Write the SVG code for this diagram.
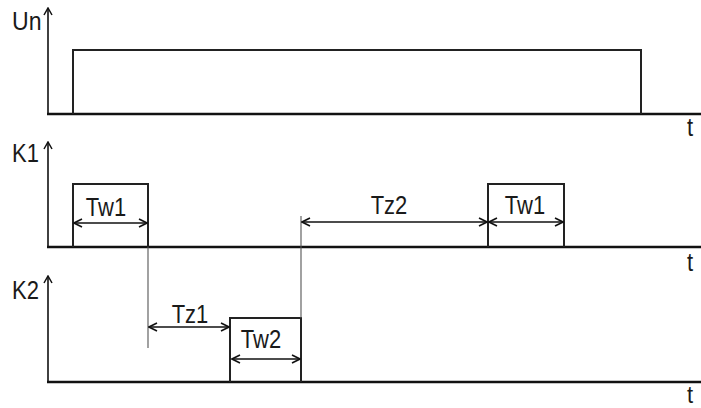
<svg xmlns="http://www.w3.org/2000/svg" width="701" height="408" viewBox="0 0 701 408">
  <style>
    .lbl { font-family: "Liberation Sans", Arial, sans-serif; font-size: 22px; fill: #1a1a1a; }
    .dim { font-family: "Liberation Sans", Arial, sans-serif; font-size: 22px; fill: #1a1a1a; text-anchor: middle; }
    .axis { stroke: #111; stroke-width: 1.6; fill: none; }
    .base { stroke: #111; stroke-width: 2.4; fill: none; }
    .pulse { stroke: #222; stroke-width: 2; fill: none; }
    .ext { stroke: #555; stroke-width: 1.1; fill: none; }
    .arr { stroke: #111; stroke-width: 1.6; fill: none; marker-start: url(#chev); marker-end: url(#chev); }
    .ax { marker-end: url(#up); }
  </style>
  <defs>
    <marker id="chev" viewBox="0 0 10 10" refX="9" refY="5" markerWidth="10" markerHeight="10" markerUnits="userSpaceOnUse" orient="auto-start-reverse">
      <path d="M1,1 L9,5 L1,9" fill="none" stroke="#111" stroke-width="1.6"/>
    </marker>
    <marker id="up" viewBox="0 0 10 10" refX="9" refY="5" markerWidth="10" markerHeight="10" markerUnits="userSpaceOnUse" orient="auto">
      <path d="M2,1 L9,5 L2,9" fill="none" stroke="#111" stroke-width="1.5"/>
    </marker>
  </defs>

  <g id="un-axis">
    <line class="axis ax" x1="48" y1="114" x2="48" y2="8"/>
    <line class="base" x1="47" y1="114" x2="701" y2="114"/>
    <text class="lbl" transform="translate(12,30) scale(1.05,1.15)">Un</text>
    <text class="lbl" transform="translate(687,136) scale(1,1.15)">t</text>
  </g>
  <g id="un-pulse">
    <polyline class="pulse" points="73,114 73,50 641,50 641,114"/>
  </g>

  <g id="k1-axis">
    <line class="axis ax" x1="48" y1="247" x2="48" y2="142"/>
    <line class="base" x1="47" y1="247" x2="701" y2="247"/>
    <text class="lbl" transform="translate(12,162) scale(1,1.15)">K1</text>
    <text class="lbl" transform="translate(687,271) scale(1,1.15)">t</text>
  </g>
  <g id="k1-pulse1">
    <polyline class="pulse" points="73,247 73,184 148,184 148,247"/>
  </g>
  <g id="k1-pulse2">
    <polyline class="pulse" points="488,247 488,184 564,184 564,247"/>
  </g>

  <g id="k2-axis">
    <line class="axis ax" x1="48" y1="382" x2="48" y2="276"/>
    <line class="base" x1="47" y1="382" x2="701" y2="382"/>
    <text class="lbl" transform="translate(12,299) scale(1,1.15)">K2</text>
    <text class="lbl" transform="translate(687,403) scale(1,1.1)">t</text>
  </g>
  <g id="k2-pulse">
    <polyline class="pulse" points="230,382 230,318 301,318 301,382"/>
  </g>

  <g id="connectors">
    <line class="ext" x1="148" y1="247" x2="148" y2="348"/>
    <line class="ext" x1="301" y1="216" x2="301" y2="318"/>
    <line class="arr" x1="74" y1="223" x2="147" y2="223"/>
    <line class="arr" x1="302" y1="222" x2="487" y2="222"/>
    <line class="arr" x1="489" y1="222" x2="563" y2="222"/>
    <line class="arr" x1="149" y1="327" x2="229" y2="327"/>
    <line class="arr" x1="232" y1="359" x2="300" y2="359"/>
  </g>

  <g id="labels">
    <text class="dim" transform="translate(106,216) scale(1,1.15)">Tw1</text>
    <text class="dim" transform="translate(389,214) scale(1,1.15)">Tz2</text>
    <text class="dim" transform="translate(525,214) scale(1,1.15)">Tw1</text>
    <text class="dim" transform="translate(190,323) scale(1,1.15)">Tz1</text>
    <text class="dim" transform="translate(261,348) scale(1,1.15)">Tw2</text>
  </g>
</svg>
